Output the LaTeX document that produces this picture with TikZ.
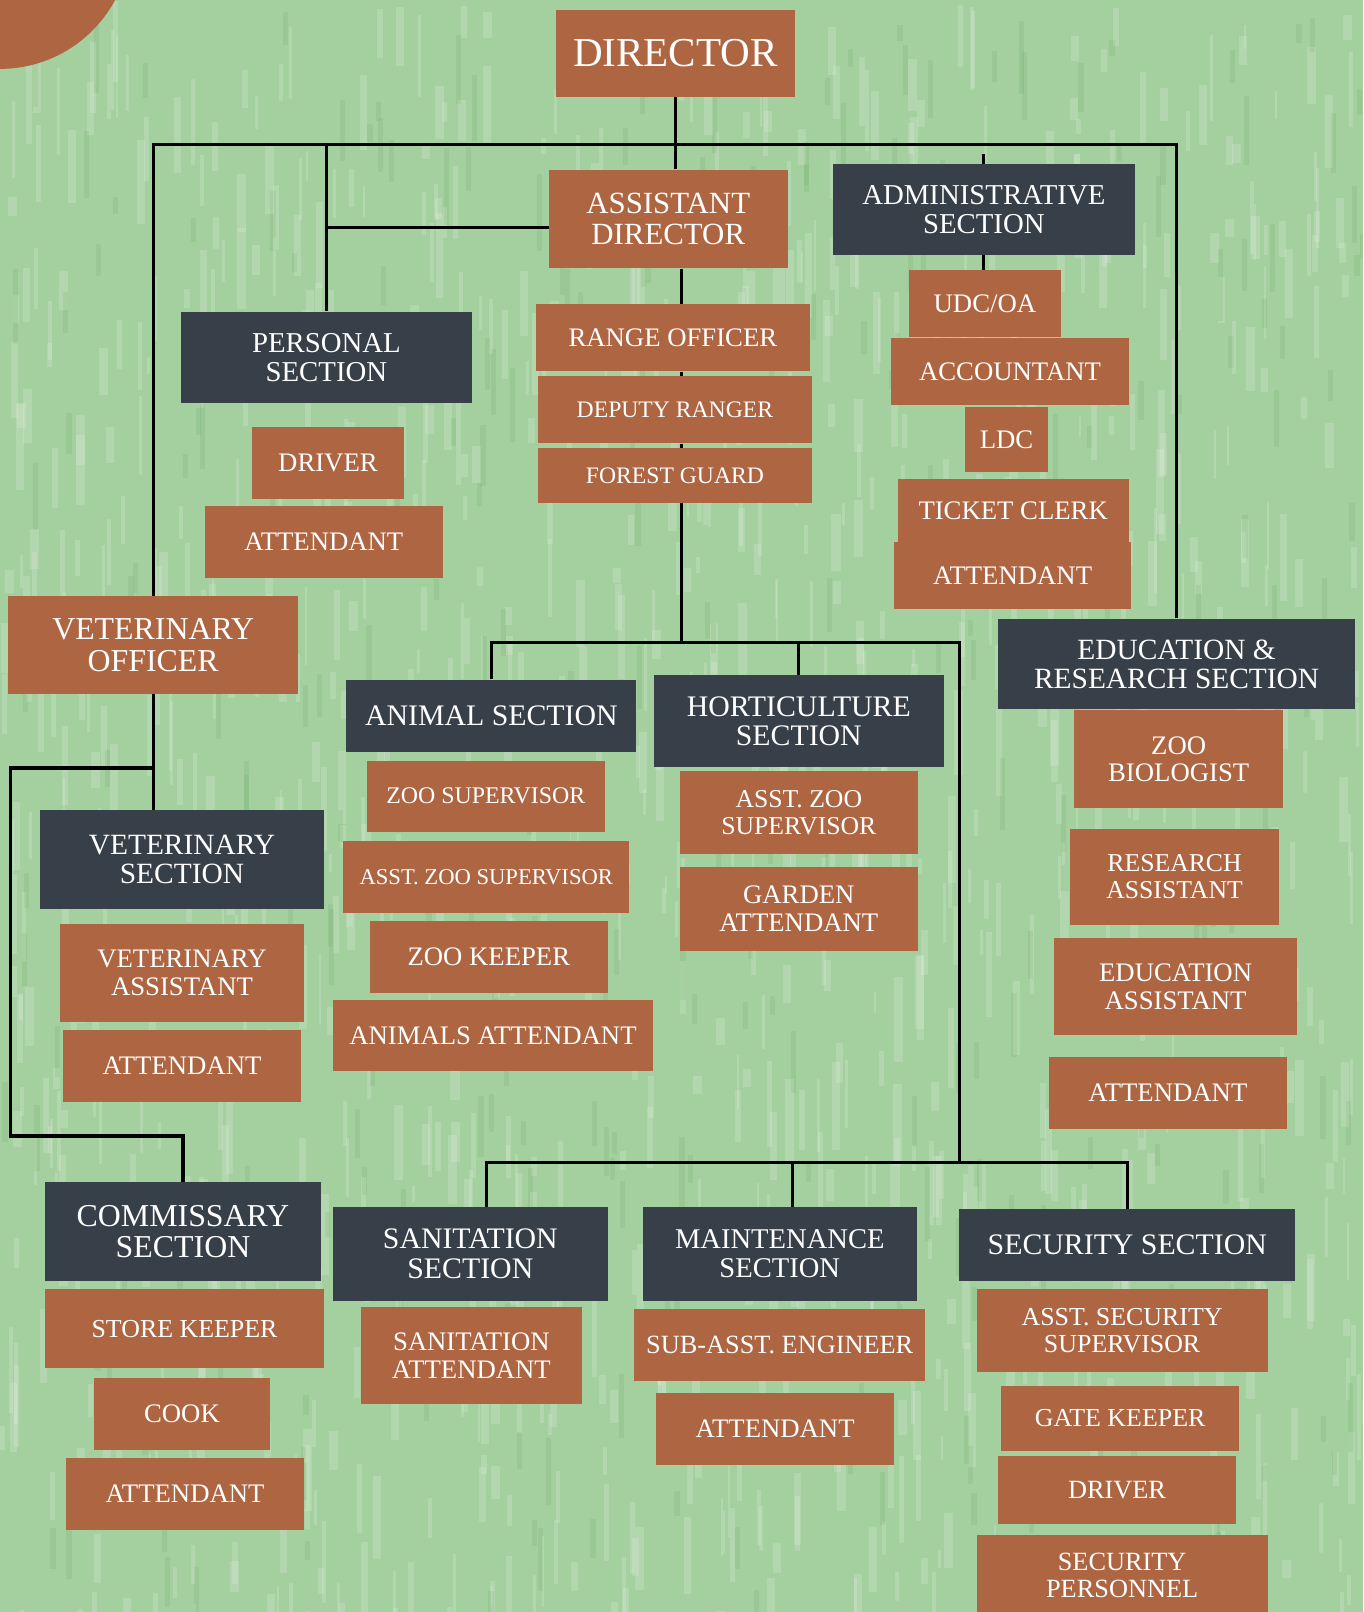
\documentclass[tikz,border=0pt]{standalone}
\usepackage{fontspec}
\setmainfont{Liberation Serif}
\usepackage{xcolor}
\usetikzlibrary{positioning,calc}

\definecolor{zoobrown}{HTML}{AD6542}
\definecolor{zoodark}{HTML}{373F48}
\definecolor{zoogreen}{HTML}{A4CF9E}

\tikzset{
  brownbox/.style={fill=zoobrown, text=white, align=center, inner sep=0pt,
    font=\fontsize{13}{13.5}\selectfont},
  darkbox/.style={brownbox, fill=zoodark, font=\fontsize{14.5}{14.5}\selectfont},
  link/.style={line width=1.5pt, black}
}

% box from its corners: style, name, x1, y1, x2, y2, text
\newcommand{\orgbox}[7]{%
  \node[#1, minimum width={(#5-#3)*0.5pt}, minimum height={(#6-#4)*0.5pt}]
    (#2) at ({(#3+#5)/2},{(#4+#6)/2}) {#7};}

\begin{document}
\begin{tikzpicture}[x=0.5pt, y=-0.5pt]
    \useasboundingbox (0,0) rectangle (1326,1568);
    \clip (0,0) rectangle (1326,1568);

    % Background
    \fill[zoogreen] (0,0) rectangle (1326,1568);
    \pgfmathsetseed{42}
    \foreach \k in {1,...,1100} {
      \pgfmathsetmacro{\sx}{rnd*1326}
      \pgfmathsetmacro{\sy}{rnd*1568}
      \pgfmathsetmacro{\sl}{15+rnd*70}
      \pgfmathsetmacro{\sw}{2+rnd*7}
      \fill[white, opacity=0.16] (\sx,\sy) rectangle ++(\sw,\sl);
    }
    \foreach \k in {1,...,300} {
      \pgfmathsetmacro{\sx}{rnd*1326}
      \pgfmathsetmacro{\sy}{rnd*1568}
      \pgfmathsetmacro{\sl}{15+rnd*60}
      \fill[green!40!black, opacity=0.06] (\sx,\sy) rectangle ++(5,\sl);
    }
    \fill[zoobrown] (0,-60) circle[radius=63.5pt];

    % Top
    \orgbox{brownbox, font=\fontsize{20}{20}\selectfont}{dir}{541}{10}{773}{94}{DIRECTOR}
    \orgbox{brownbox, font=\fontsize{15}{15}\selectfont}{ad}{534}{165}{766}{261}{ASSISTANT\\DIRECTOR}
    \orgbox{darkbox, font=\fontsize{14}{14}\selectfont}{as}{810}{160}{1104}{248}{ADMINISTRATIVE\\SECTION}
    \orgbox{darkbox, font=\fontsize{14}{14}\selectfont}{ps}{176}{303}{459}{392}{PERSONAL\\SECTION}

    % Range
    \orgbox{brownbox}{ro}{521}{296}{788}{361}{RANGE OFFICER}
    \orgbox{brownbox, font=\fontsize{11.5}{12}\selectfont}{dr}{523}{366}{790}{431}{DEPUTY RANGER}
    \orgbox{brownbox, font=\fontsize{11.5}{12}\selectfont}{fg}{523}{436}{790}{489}{FOREST GUARD}

    % Administrative
    \orgbox{brownbox}{udc}{884}{263}{1032}{328}{UDC/OA}
    \orgbox{brownbox}{acc}{867}{329}{1098}{394}{ACCOUNTANT}
    \orgbox{brownbox}{ldc}{939}{396}{1019}{459}{LDC}
    \orgbox{brownbox}{tc}{873}{466}{1098}{527}{TICKET CLERK}
    \orgbox{brownbox}{aat}{870}{527}{1100}{592}{ATTENDANT}

    % Personal
    \orgbox{brownbox}{pdr}{245}{415}{393}{485}{DRIVER}
    \orgbox{brownbox}{pat}{199}{492}{431}{562}{ATTENDANT}

    % Veterinary
    \orgbox{brownbox, font=\fontsize{15.5}{15.5}\selectfont}{vo}{8}{580}{290}{675}{VETERINARY\\OFFICER}
    \orgbox{darkbox, font=\fontsize{14.3}{14.3}\selectfont}{vs}{39}{788}{315}{884}{VETERINARY\\SECTION}
    \orgbox{brownbox}{va}{58}{899}{296}{994}{VETERINARY\\ASSISTANT}
    \orgbox{brownbox}{vat}{61}{1002}{293}{1072}{ATTENDANT}

    % Animal and horticulture
    \orgbox{darkbox}{an}{337}{661}{619}{731}{ANIMAL SECTION}
    \orgbox{brownbox, font=\fontsize{11.6}{12}\selectfont}{zs}{357}{740}{588}{809}{ZOO SUPERVISOR}
    \orgbox{brownbox, font=\fontsize{11}{12}\selectfont}{azs}{334}{818}{612}{888}{ASST. ZOO SUPERVISOR}
    \orgbox{brownbox}{zk}{360}{896}{591}{966}{ZOO KEEPER}
    \orgbox{brownbox}{ana}{324}{973}{635}{1042}{ANIMALS ATTENDANT}
    \orgbox{darkbox}{hs}{636}{657}{918}{746}{HORTICULTURE\\SECTION}
    \orgbox{brownbox, font=\fontsize{12.5}{13}\selectfont}{hzs}{661}{750}{893}{831}{ASST. ZOO\\SUPERVISOR}
    \orgbox{brownbox}{ga}{661}{843}{893}{925}{GARDEN\\ATTENDANT}

    % Education and research
    \orgbox{darkbox, font=\fontsize{14.3}{14.3}\selectfont}{ers}{971}{602}{1318}{690}{EDUCATION \&\\RESEARCH SECTION}
    \orgbox{brownbox}{zb}{1045}{691}{1248}{786}{ZOO\\BIOLOGIST}
    \orgbox{brownbox, font=\fontsize{12.5}{13}\selectfont}{ra}{1041}{806}{1244}{900}{RESEARCH\\ASSISTANT}
    \orgbox{brownbox}{ea}{1025}{912}{1262}{1007}{EDUCATION\\ASSISTANT}
    \orgbox{brownbox}{eat}{1020}{1028}{1252}{1098}{ATTENDANT}

    % Commissary
    \orgbox{darkbox, font=\fontsize{15.5}{15.5}\selectfont}{cs}{44}{1150}{312}{1246}{COMMISSARY\\SECTION}
    \orgbox{brownbox, font=\fontsize{12.6}{13}\selectfont}{sk}{44}{1254}{315}{1331}{STORE KEEPER}
    \orgbox{brownbox}{ck}{91}{1340}{263}{1410}{COOK}
    \orgbox{brownbox}{cat}{64}{1418}{296}{1488}{ATTENDANT}

    % Sanitation and maintenance
    \orgbox{darkbox}{ss}{324}{1174}{591}{1265}{SANITATION\\SECTION}
    \orgbox{brownbox}{sa}{351}{1271}{566}{1366}{SANITATION\\ATTENDANT}
    \orgbox{darkbox, font=\fontsize{13.9}{14}\selectfont}{ms}{625}{1174}{892}{1265}{MAINTENANCE\\SECTION}
    \orgbox{brownbox, font=\fontsize{12.8}{13}\selectfont}{sae}{617}{1273}{900}{1343}{SUB-ASST. ENGINEER}
    \orgbox{brownbox}{mat}{638}{1355}{870}{1425}{ATTENDANT}

    % Security
    \orgbox{darkbox}{sec}{933}{1176}{1260}{1246}{SECURITY SECTION}
    \orgbox{brownbox, font=\fontsize{12.6}{13}\selectfont}{ass}{950}{1254}{1233}{1335}{ASST. SECURITY\\SUPERVISOR}
    \orgbox{brownbox, font=\fontsize{12.6}{13}\selectfont}{gk}{974}{1348}{1205}{1411}{GATE KEEPER}
    \orgbox{brownbox, font=\fontsize{12.8}{13}\selectfont}{sdr}{971}{1416}{1202}{1482}{DRIVER}
    \orgbox{brownbox, font=\fontsize{12.8}{13}\selectfont}{sp}{950}{1493}{1233}{1572}{SECURITY\\PERSONNEL}

    % Connectors
    \coordinate (bar) at (0,141);
    \coordinate (spine) at (663,0);
    \coordinate (midbar) at (933,625);
    \coordinate (lowbar) at (0,1131);
    \coordinate (loop) at (10,747);
    \coordinate (cbar) at (0,1105);
    \coordinate (stub) at (957,150);

    \draw[link] (dir.south) -- (dir.south |- ad.north);
    \draw[link] (vo.north) |- (bar -| ers.north) -- (ers.north);
    \draw[link] (ps.north) -- (ps.north |- bar);
    \draw[link] ([yshift=-4pt]ad.west) -- ([yshift=-4pt]ad.west -| ps.north);
    \draw[link] (stub) -- (stub |- as.north);
    \draw[link] (as.south) -- (as.south |- udc.north);

    \draw[link] (ad.south -| spine) -- (ro.north -| spine);
    \draw[link] (ro.south -| spine) -- (dr.north -| spine);
    \draw[link] (dr.south -| spine) -- (fg.north -| spine);
    \draw[link] (fg.south -| spine) -- (spine |- midbar);
    \draw[link] (an.north) |- (midbar) -- (midbar |- lowbar);
    \draw[link] (hs.north) -- (hs.north |- midbar);

    \draw[link] ([xshift=8pt]ss.north) |- (lowbar -| sec.north) -- (sec.north);
    \draw[link] ([xshift=6pt]ms.north) -- ([xshift=6pt]ms.north |- lowbar);

    \draw[link] (vo.south) -- (vo.south |- vs.north);
    \draw[link] (vo.south |- loop) -- (loop) |- (cs.north |- cbar) -- (cs.north);

\end{tikzpicture}
\end{document}
